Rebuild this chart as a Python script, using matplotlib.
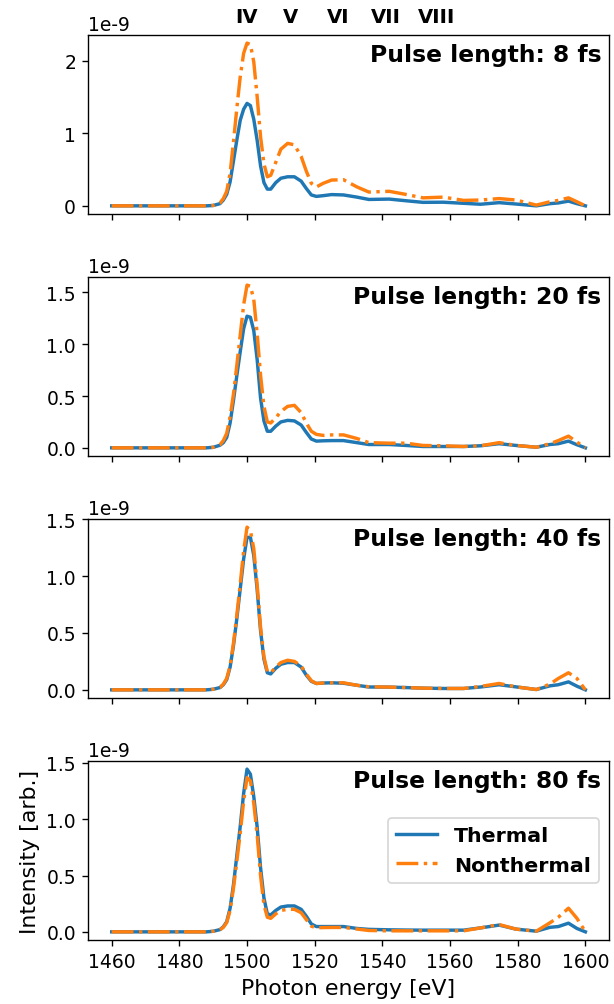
import numpy as np
import matplotlib
matplotlib.use("Agg")
import matplotlib.pyplot as plt

plt.rcParams["axes.unicode_minus"] = False

# photon energy grid [eV]
energy = [1460, 1470, 1480, 1488, 1490, 1492,
          1493, 1494, 1495, 1496, 1497, 1498, 1499, 1500, 1501, 1502, 1503, 1504, 1505, 1506, 1507,
          1508.5, 1510, 1512, 1514, 1516, 1517.5, 1519, 1520.5,
          1522.5, 1525, 1528.5, 1532.5, 1536, 1542, 1547, 1552, 1558, 1564, 1569,
          1574.5, 1579.5, 1585.5, 1589.5, 1592, 1595, 1597.5, 1600]

# intensities in units of 1e-9
thermal_8 = [0, 0, 0, 0, 0.005, 0.03,
             0.08, 0.16, 0.33, 0.62, 0.91, 1.18, 1.33, 1.41, 1.38, 1.19, 0.90, 0.55, 0.32, 0.23, 0.23,
             0.32, 0.38, 0.40, 0.40, 0.34, 0.24, 0.15, 0.13,
             0.14, 0.155, 0.15, 0.12, 0.088, 0.093, 0.07, 0.048, 0.05, 0.035, 0.022,
             0.044, 0.025, 0.0, 0.03, 0.04, 0.065, 0.03, 0]
nonthermal_8 = [0, 0, 0, 0, 0.005, 0.04,
                0.10, 0.20, 0.45, 0.88, 1.35, 1.78, 2.10, 2.24, 2.22, 1.98, 1.50, 0.95, 0.58, 0.40, 0.42,
                0.60, 0.78, 0.86, 0.84, 0.68, 0.48, 0.31, 0.26,
                0.31, 0.355, 0.36, 0.26, 0.19, 0.20, 0.157, 0.11, 0.12, 0.075, 0.08,
                0.10, 0.08, 0.01, 0.056, 0.075, 0.11, 0.056, 0]

thermal_20 = [0, 0, 0, 0, 0.005, 0.025,
              0.05, 0.10, 0.24, 0.46, 0.70, 0.93, 1.15, 1.27, 1.26, 1.13, 0.85, 0.48, 0.26, 0.16, 0.16,
              0.21, 0.25, 0.265, 0.26, 0.22, 0.15, 0.085, 0.065,
              0.068, 0.07, 0.07, 0.05, 0.032, 0.032, 0.023, 0.013, 0.013, 0.013, 0.02,
              0.04, 0.023, 0.006, 0.032, 0.04, 0.065, 0.03, 0]
nonthermal_20 = [0, 0, 0, 0, 0.005, 0.03,
                 0.07, 0.14, 0.30, 0.52, 0.80, 1.09, 1.38, 1.57, 1.56, 1.43, 1.10, 0.70, 0.40, 0.25, 0.24,
                 0.29, 0.35, 0.40, 0.41, 0.34, 0.24, 0.16, 0.13,
                 0.12, 0.125, 0.125, 0.09, 0.05, 0.045, 0.045, 0.023, 0.02, 0.013, 0.02,
                 0.05, 0.023, 0.006, 0.04, 0.07, 0.113, 0.055, 0]

thermal_40 = [0, 0, 0, 0, 0.005, 0.02,
              0.045, 0.09, 0.20, 0.39, 0.63, 0.89, 1.15, 1.34, 1.34, 1.18, 0.88, 0.52, 0.27, 0.15, 0.14,
              0.19, 0.225, 0.24, 0.24, 0.20, 0.13, 0.075, 0.056,
              0.06, 0.062, 0.058, 0.04, 0.025, 0.024, 0.02, 0.015, 0.012, 0.012, 0.025,
              0.045, 0.026, 0.003, 0.035, 0.045, 0.07, 0.032, 0]
nonthermal_40 = [0, 0, 0, 0, 0.005, 0.02,
                 0.05, 0.10, 0.21, 0.41, 0.66, 0.93, 1.22, 1.43, 1.40, 1.24, 0.92, 0.55, 0.29, 0.16, 0.15,
                 0.20, 0.24, 0.26, 0.25, 0.21, 0.14, 0.08, 0.056,
                 0.06, 0.062, 0.062, 0.04, 0.027, 0.024, 0.02, 0.015, 0.012, 0.012, 0.03,
                 0.056, 0.026, 0.003, 0.05, 0.10, 0.15, 0.10, 0]

thermal_80 = [0, 0, 0, 0, 0.005, 0.02,
              0.045, 0.09, 0.21, 0.42, 0.68, 0.94, 1.23, 1.445, 1.40, 1.20, 0.93, 0.57, 0.30, 0.16, 0.15,
              0.19, 0.22, 0.23, 0.23, 0.20, 0.14, 0.07, 0.047,
              0.047, 0.047, 0.047, 0.03, 0.022, 0.018, 0.016, 0.015, 0.015, 0.015, 0.035,
              0.06, 0.024, 0.006, 0.04, 0.047, 0.077, 0.03, 0]
nonthermal_80 = [0, 0, 0, 0, 0.005, 0.018,
                 0.04, 0.083, 0.19, 0.39, 0.63, 0.88, 1.16, 1.37, 1.34, 1.14, 0.86, 0.50, 0.24, 0.13, 0.12,
                 0.16, 0.19, 0.20, 0.20, 0.17, 0.11, 0.05, 0.036,
                 0.038, 0.039, 0.039, 0.025, 0.012, 0.009, 0.009, 0.009, 0.009, 0.009, 0.035,
                 0.065, 0.024, 0.006, 0.08, 0.13, 0.21, 0.12, 0]

pulse_lengths = [8, 20, 40, 80]
thermal = [thermal_8, thermal_20, thermal_40, thermal_80]
nonthermal = [nonthermal_8, nonthermal_20, nonthermal_40, nonthermal_80]

peak_labels = ["IV", "V", "VI", "VII", "VIII"]
peak_pos = [1500, 1513, 1527, 1541, 1556]

fig, axes = plt.subplots(4, 1, figsize=(5.0, 8.184), dpi=122.8, sharex=True)
fig.subplots_adjust(left=0.1433, right=0.992, top=0.9642, bottom=0.0637, hspace=0.352)

E = np.array(energy)
for ax, tau, th, nth in zip(axes, pulse_lengths, thermal, nonthermal):
    ax.plot(E, np.array(th) * 1e-9, color="tab:blue", lw=2, label="Thermal")
    ax.plot(E, np.array(nth) * 1e-9, color="tab:orange", lw=2, ls="-.", label="Nonthermal")
    ax.text(0.985, 0.955, f"Pulse length: {tau} fs", transform=ax.transAxes,
            ha="right", va="top", fontsize=13.8, fontweight="bold")
    ax.tick_params(labelsize=11)
    ax.yaxis.get_offset_text().set_fontsize(11)

for lab, x in zip(peak_labels, peak_pos):
    axes[0].text(x, 1.105, lab, transform=axes[0].get_xaxis_transform(),
                 ha="center", va="center", fontsize=11.5, fontweight="bold")

axes[-1].set_xticks(np.arange(1460, 1601, 20))
axes[-1].set_xlabel("Photon energy [eV]", fontsize=13)
axes[-1].set_ylabel("Intensity [arb.]", fontsize=13)
axes[-1].legend(loc="center right", prop={"weight": "bold", "size": 12})

fig.savefig("out.png", dpi=122.8)
